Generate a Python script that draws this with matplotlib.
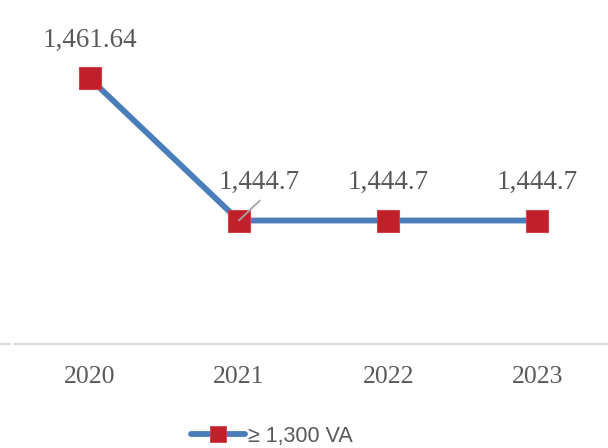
import matplotlib
matplotlib.use("Agg")
import matplotlib.pyplot as plt
from matplotlib.lines import Line2D

years = ["2020", "2021", "2022", "2023"]
tariff = [1461.64, 1444.7, 1444.7, 1444.7]
labels = ["1,461.64", "1,444.7", "1,444.7", "1,444.7"]
series_name = "\u2265 1,300 VA"

W, H = 608, 448
fig = plt.figure(figsize=(W / 100, H / 100), dpi=100)
# axes runs slightly past the right edge, as in the reference crop
ax = fig.add_axes([15 / W, (H - 344) / H, 597 / W, 336 / H])

x = list(range(len(years)))
ax.plot(x, tariff, color="#4A7EBB", lw=4.2, marker="s", ms=16.5,
        mfc="#C0202A", mec="#D04048", mew=0.8, label=series_name,
        solid_capstyle="round", zorder=3)

ax.set_xlim(-0.5, 3.5)
ax.set_ylim(1430, 1470)
ax.set_xticks(x)
ax.set_xticklabels(years, fontfamily="Liberation Serif", fontsize=18.5, color="#595959")
ax.tick_params(axis="x", length=0, pad=16)
ax.set_yticks([])
for s in ("left", "right", "top"):
    ax.spines[s].set_visible(False)
ax.spines["bottom"].set_color("#D9D9D9")
ax.spines["bottom"].set_linewidth(1.5)

lab_kw = dict(fontfamily="Liberation Serif", fontsize=19.5, color="#595959",
              ha="center", va="center", textcoords="offset pixels")
for i, (v, t) in enumerate(zip(tariff, labels)):
    dx = 20 if i == 1 else 0
    ax.annotate(t, (i, v), xytext=(dx, 38), **lab_kw)

# leader line for the moved 2021 label
ax.annotate("", (1, tariff[1]), xytext=(21, 20), textcoords="offset pixels",
            arrowprops=dict(arrowstyle="-", color="#A6A6A6", lw=1.3,
                            shrinkA=0, shrinkB=0), zorder=5)

# stray bit of a cropped neighbouring axis line at the left edge
fig.add_artist(Line2D([0, 10 / W], [(H - 344) / H] * 2, color="#D9D9D9", lw=1.5))

handle = Line2D([], [], color="#4A7EBB", lw=4.2, marker="s", ms=11.5,
                mfc="#C0202A", mec="#D04048", mew=0.6, solid_capstyle="round")
fig.legend([handle], [series_name], loc="center",
           bbox_to_anchor=(272 / W, (H - 436) / H), frameon=False,
           prop={"family": "Liberation Sans", "size": 15.5}, handlelength=2.5,
           handletextpad=0.15, labelcolor="#595959")

fig.savefig("out.png", dpi=100)
